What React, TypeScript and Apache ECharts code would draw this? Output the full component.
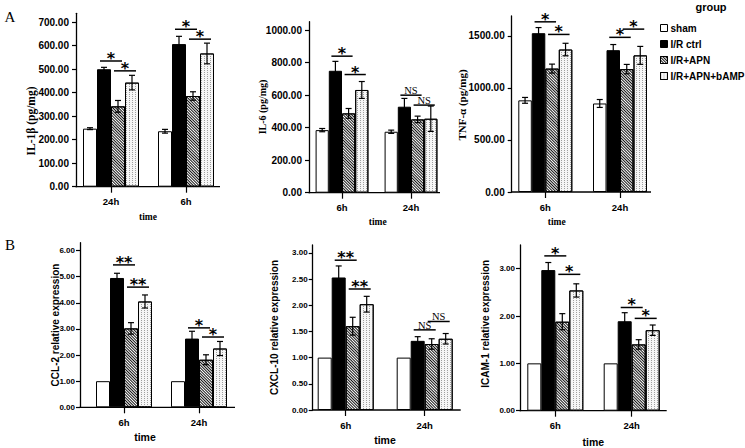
import React, { useEffect, useRef } from "react";
import * as echarts from "echarts";

const groupNames = ["sham", "I/R ctrl", "I/R+APN", "I/R+APN+bAMP"];

// IL-1β (pg/mg)
const il1bTimes = ["24h", "6h"];
const il1bTicks = [0, 100, 200, 300, 400, 500, 600, 700];
const il1bMean = [[247, 236], [500, 607], [342, 386], [443, 567]];
const il1bErr = [[4, 8], [8, 33], [25, 18], [31, 44]];
const il1bSig: (number | string)[][] = [[0, 1, 2, 535, "*"], [0, 2, 3, 493, "*"], [1, 1, 2, 670, "*"], [1, 2, 3, 628, "*"]];

// IL-6 (pg/mg)
const il6Times = ["6h", "24h"];
const il6Ticks = [0, 200, 400, 600, 800, 1000];
const il6Mean = [[385, 375], [750, 529], [488, 451], [632, 455]];
const il6Err = [[10, 10], [58, 51], [30, 20], [52, 78]];
const il6Sig: (number | string)[][] = [[0, 1, 2, 840, "*"], [0, 2, 3, 727, "*"], [1, 1, 2, 600, "NS"], [1, 2, 3, 539, "NS"]];

// TNF-α (pg/mg)
const tnfTimes = ["6h", "24h"];
const tnfTicks = [0, 500, 1000, 1500];
const tnfMean = [[880, 850], [1525, 1362], [1185, 1180], [1368, 1312]];
const tnfErr = [[28, 38], [54, 54], [43, 45], [60, 86]];
const tnfSig: (number | string)[][] = [[0, 1, 2, 1634, "*"], [0, 2, 3, 1513, "*"], [1, 1, 2, 1485, "*"], [1, 2, 3, 1564, "*"]];

// CCL-2 relative expression
const ccl2Times = ["6h", "24h"];
const ccl2Ticks = [0, 1, 2, 3, 4, 5, 6];
const ccl2Mean = [[1, 1], [4.95, 2.63], [3.02, 1.82], [4.05, 2.25]];
const ccl2Err = [[0, 0], [0.18, 0.28], [0.22, 0.19], [0.25, 0.27]];
const ccl2Sig: (number | string)[][] = [[0, 1, 2, 5.45, "**"], [0, 2, 3, 4.6, "**"], [1, 1, 2, 3.04, "*"], [1, 2, 3, 2.69, "*"]];

// CXCL-10 relative expression
const cxclTimes = ["6h", "24h"];
const cxclTicks = [0, 0.5, 1, 1.5, 2, 2.5, 3];
const cxclMean = [[1, 1], [2.53, 1.32], [1.6, 1.26], [2.02, 1.36]];
const cxclErr = [[0, 0], [0.22, 0.08], [0.17, 0.1], [0.15, 0.1]];
const cxclSig: (number | string)[][] = [[0, 1, 2, 2.86, "**"], [0, 2, 3, 2.31, "**"], [1, 1, 2, 1.53, "NS"], [1, 2, 3, 1.69, "NS"]];

// ICAM-1 relative expression
const icamTimes = ["6h", "24h"];
const icamTicks = [0, 1, 2, 3];
const icamMean = [[1, 1], [2.97, 1.89], [1.88, 1.4], [2.54, 1.7]];
const icamErr = [[0, 0], [0.16, 0.18], [0.17, 0.1], [0.14, 0.11]];
const icamSig: (number | string)[][] = [[0, 1, 2, 3.27, "*"], [0, 2, 3, 2.88, "*"], [1, 1, 2, 2.18, "*"], [1, 2, 3, 1.95, "*"]];

const SANS = "'Liberation Sans', Arial, Helvetica, sans-serif";
const SERIF = "'Liberation Serif', 'Times New Roman', serif";
const STAR = "'DejaVu Sans', 'Liberation Sans', sans-serif";

type Panel = {
  yName: string; serif: boolean; cats: string[]; ticks: number[]; mean: number[][]; err: number[][];
  sig: (number | string)[][]; yMax: number;
  axisX: number; c0: number; c1: number; topPx: number; zeroPx: number; xEnd: number; bw: number;
  nameX: number; nameY: number; nameSize: number; timeX: number; timeY: number; timeSize: number;
  tickSize: number; tickMargin: number; catSize: number;
};

const panels: Panel[] = [
  { yName: "IL-1β (pg/mg)", serif: true, cats: il1bTimes, ticks: il1bTicks, mean: il1bMean, err: il1bErr, sig: il1bSig, yMax: 738,
    axisX: 76, c0: 111, c1: 186, topPx: 13.3, zeroPx: 186.7, xEnd: 220, bw: 14,
    nameX: 30.5, nameY: 121, nameSize: 11.5, timeX: 148, timeY: 217, timeSize: 9.5, tickSize: 10, tickMargin: 7, catSize: 9.5 },
  { yName: "IL-6 (pg/mg)", serif: true, cats: il6Times, ticks: il6Ticks, mean: il6Mean, err: il6Err, sig: il6Sig, yMax: 1052,
    axisX: 309, c0: 342, c1: 411, topPx: 21.7, zeroPx: 192.7, xEnd: 440, bw: 13.2,
    nameX: 262.5, nameY: 107, nameSize: 10, timeX: 377.7, timeY: 221.7, timeSize: 9.5, tickSize: 10, tickMargin: 7, catSize: 9.5 },
  { yName: "TNF-α (pg/mg)", serif: true, cats: tnfTimes, ticks: tnfTicks, mean: tnfMean, err: tnfErr, sig: tnfSig, yMax: 1690,
    axisX: 511.7, c0: 545.3, c1: 620, topPx: 16, zeroPx: 192, xEnd: 651, bw: 13.5,
    nameX: 462, nameY: 105, nameSize: 11, timeX: 556.7, timeY: 221.7, timeSize: 9.5, tickSize: 10, tickMargin: 7, catSize: 9.5 },
  { yName: "CCL-2 relative expression", serif: false, cats: ccl2Times, ticks: ccl2Ticks, mean: ccl2Mean, err: ccl2Err, sig: ccl2Sig, yMax: 6.3,
    axisX: 80, c0: 124, c1: 199, topPx: 242.7, zeroPx: 407.3, xEnd: 235, bw: 14,
    nameX: 55.5, nameY: 325, nameSize: 10, timeX: 145, timeY: 436.7, timeSize: 10.5, tickSize: 8, tickMargin: 5, catSize: 9.5 },
  { yName: "CXCL-10 relative expression", serif: false, cats: cxclTimes, ticks: cxclTicks, mean: cxclMean, err: cxclErr, sig: cxclSig, yMax: 3.15,
    axisX: 312.7, c0: 345.7, c1: 424.7, topPx: 245, zeroPx: 410, xEnd: 460.7, bw: 14,
    nameX: 274, nameY: 327.5, nameSize: 10, timeX: 385, timeY: 440, timeSize: 10.5, tickSize: 8, tickMargin: 5, catSize: 9.5 },
  { yName: "ICAM-1 relative expression", serif: false, cats: icamTimes, ticks: icamTicks, mean: icamMean, err: icamErr, sig: icamSig, yMax: 3.5,
    axisX: 520, c0: 555.3, c1: 631.7, topPx: 245, zeroPx: 410.7, xEnd: 666.7, bw: 14,
    nameX: 485, nameY: 323.8, nameSize: 10, timeX: 593.3, timeY: 441.7, timeSize: 10.5, tickSize: 8, tickMargin: 5, catSize: 9.5 },
];

const groupStyles: any[] = [
  { color: "#ffffff" },
  { color: "#000000" },
  { color: "#ffffff", decal: { symbol: "rect", symbolSize: 1, color: "#111111", dashArrayX: [1, 0], dashArrayY: [1, 1], rotation: Math.PI / 4 } },
  { color: "#f6f6f6", decal: { symbol: "rect", symbolSize: 1, color: "#a0a0a0", dashArrayX: [1, 2], dashArrayY: [1, 1], rotation: 0 } },
];

function buildOption() {
  const grid: any[] = [];
  const xAxis: any[] = [];
  const yAxis: any[] = [];
  const series: any[] = [];
  const elements: any[] = [];

  panels.forEach((p, i) => {
    const d = p.c1 - p.c0;
    const left = p.c0 - d / 2;
    grid.push({ left, top: p.topPx, width: 2 * d, height: p.zeroPx - p.topPx, containLabel: false, outerBoundsMode: "none" });
    xAxis.push({
      type: "category", gridIndex: i, data: p.cats,
      axisLine: { show: false },
      axisTick: { show: true, alignWithLabel: true, length: 6, lineStyle: { color: "#000", width: 1.2 } },
      axisLabel: { color: "#000", fontFamily: SANS, fontWeight: "bold", fontSize: p.catSize, margin: 10 },
      splitLine: { show: false },
    });
    yAxis.push({
      type: "value", gridIndex: i, min: 0, max: p.yMax, offset: left - p.axisX,
      axisLine: { show: true, lineStyle: { color: "#000", width: 1.3 } },
      axisTick: { show: true, length: 4, customValues: p.ticks, lineStyle: { color: "#000", width: 1.2 } },
      axisLabel: { customValues: p.ticks, formatter: (v: number) => v.toFixed(2), color: "#000", fontFamily: SANS, fontWeight: "bold", fontSize: p.tickSize, margin: p.tickMargin },
      splitLine: { show: false },
    });
    groupNames.forEach((g, gi) => {
      series.push({
        type: "bar", name: g, xAxisIndex: i, yAxisIndex: i, data: p.mean[gi], barWidth: p.bw, barGap: "0%",
        itemStyle: { ...groupStyles[gi], borderColor: "#000", borderWidth: 1 }, silent: true, z: 2,
      });
    });
    const errData: number[][] = [];
    p.mean.forEach((vals, gi) => vals.forEach((v, ci) => errData.push([ci, gi, v, p.err[gi][ci]])));
    series.push({
      type: "custom", xAxisIndex: i, yAxisIndex: i, data: errData, encode: { x: 0, y: 2 }, silent: true, z: 4,
      renderItem: (params: any, api: any) => {
        const cat = api.value(0), g = api.value(1), v = api.value(2), e = api.value(3);
        if (!e) return { type: "group", children: [] };
        const top = api.coord([cat, v + e]);
        const bot = api.coord([cat, v - e]);
        const x = top[0] + (g - 1.5) * p.bw;
        const st = { stroke: "#000", lineWidth: 1.2 };
        return {
          type: "group", children: [
            { type: "line", shape: { x1: x, y1: top[1], x2: x, y2: bot[1] }, style: st },
            { type: "line", shape: { x1: x - 3, y1: top[1], x2: x + 3, y2: top[1] }, style: st },
            { type: "line", shape: { x1: x - 3, y1: bot[1], x2: x + 3, y2: bot[1] }, style: st },
          ],
        };
      },
    });
    series.push({
      type: "custom", xAxisIndex: i, yAxisIndex: i, data: p.sig.map((s) => [s[0], s[3]]), encode: { x: 0, y: 1 }, silent: true, z: 5,
      renderItem: (params: any, api: any) => {
        const s = p.sig[params.dataIndex];
        const c = api.coord([s[0], s[3]]);
        const xA = c[0] + ((s[1] as number) - 1.5) * p.bw - 4;
        const xB = c[0] + ((s[2] as number) - 1.5) * p.bw + 4;
        const y = c[1];
        const lbl = s[4] as string;
        const ns = lbl === "NS";
        return {
          type: "group", children: [
            { type: "line", shape: { x1: xA, y1: y, x2: xB, y2: y }, style: { stroke: "#000", lineWidth: 1.5 } },
            {
              type: "text", x: (xA + xB) / 2, y: ns ? y - 4.5 : y - 2.5,
              style: {
                text: lbl, fill: "#000", fontFamily: ns ? SERIF : STAR, fontWeight: ns ? "normal" : "bold", fontSize: ns ? 10.5 : 16,
                align: "center", verticalAlign: "middle", textAlign: "center", textVerticalAlign: "middle",
              },
            },
          ],
        };
      },
    });
    elements.push({ type: "line", silent: true, shape: { x1: p.axisX - 0.65, y1: p.zeroPx, x2: p.xEnd, y2: p.zeroPx }, style: { stroke: "#000", lineWidth: 1.3 } });
    elements.push({
      type: "text", x: p.nameX, y: p.nameY, rotation: Math.PI / 2, silent: true,
      style: { text: p.yName, fill: "#000", fontFamily: p.serif ? SERIF : SANS, fontWeight: "bold", fontSize: p.nameSize, align: "center", verticalAlign: "middle", textAlign: "center", textVerticalAlign: "middle" },
    });
    elements.push({
      type: "text", x: p.timeX, y: p.timeY, silent: true,
      style: { text: "time", fill: "#000", fontFamily: p.serif ? SERIF : SANS, fontWeight: "bold", fontSize: p.timeSize, align: "center", verticalAlign: "middle", textAlign: "center", textVerticalAlign: "middle" },
    });
  });

  elements.push({ type: "text", x: 10, y: 17, silent: true, style: { text: "A", fill: "#000", fontFamily: SERIF, fontSize: 15, align: "center", verticalAlign: "middle", textAlign: "center", textVerticalAlign: "middle" } });
  elements.push({ type: "text", x: 10, y: 245, silent: true, style: { text: "B", fill: "#000", fontFamily: SERIF, fontSize: 15, align: "center", verticalAlign: "middle", textAlign: "center", textVerticalAlign: "middle" } });
  elements.push({ type: "text", x: 711, y: 7, silent: true, style: { text: "group", fill: "#000", fontFamily: SANS, fontWeight: "bold", fontSize: 11, align: "center", verticalAlign: "middle", textAlign: "center", textVerticalAlign: "middle" } });

  return {
    animation: false,
    backgroundColor: "#ffffff",
    grid, xAxis, yAxis, series,
    legend: {
      data: groupNames, orient: "vertical", left: 655, top: 17, itemWidth: 7, itemHeight: 7, itemGap: 4, icon: "rect",
      selectedMode: false,
      itemStyle: { borderColor: "#000", borderWidth: 1 },
      textStyle: { fontSize: 10, fontWeight: "bold", fontFamily: SANS, color: "#000", lineHeight: 12, padding: [0, 0, 0, -2] },
    },
    graphic: { elements },
  };
}

export default function App() {
  const ref = useRef<HTMLDivElement>(null);
  useEffect(() => {
    document.body.style.margin = "0";
    const chart = echarts.init(ref.current as HTMLDivElement, null, { renderer: "svg" });
    chart.setOption(buildOption() as any);
    return () => chart.dispose();
  }, []);
  return <div ref={ref} style={{ width: 745, height: 448 }} />;
}
